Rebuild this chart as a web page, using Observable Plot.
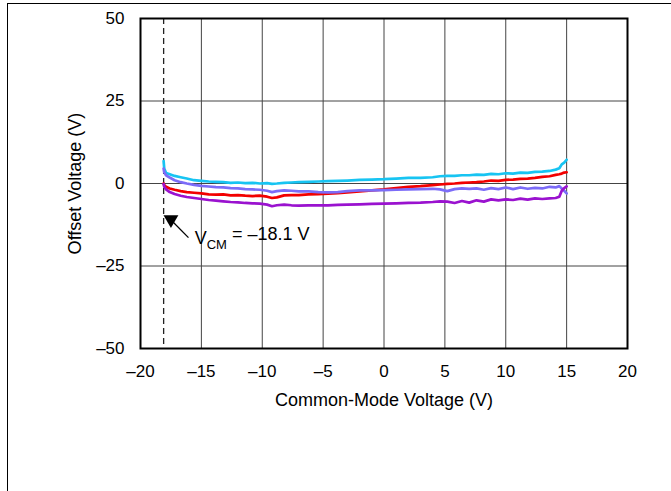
<!DOCTYPE html>
<html>
<head>
<meta charset="utf-8">
<script src="https://cdn.jsdelivr.net/npm/d3@7"></script>
<script src="https://cdn.jsdelivr.net/npm/@observablehq/plot@0.6"></script>
<style>
  html, body { margin: 0; padding: 0; background: #fff; }
  #wrap { position: relative; width: 671px; height: 491px; overflow: hidden; }
  #border { position: absolute; left: 7px; top: 3px; width: 800px; height: 800px;
            border-top: 1.5px solid #000; border-left: 1.5px solid #000; }
  #chart { position: absolute; left: 0; top: 0; }
</style>
</head>
<body>
<div id="wrap"><div id="border"></div><div id="chart"></div></div>
<script>
const xTicks = [-20, -15, -10, -5, 0, 5, 10, 15, 20];
const yTicks = [-50, -25, 0, 25, 50];
const vcm = -18.1;

const xs = [-18.1, -18.05, -17.9, -17.6, -17.2, -16.7, -16.2, -15.6, -15.0, -14.4, -13.8, -13.2, -12.6, -12.0,
  -11.4, -10.8, -10.2, -9.6, -9.2, -8.8, -8.2, -7.6, -7.0, -6.2, -5.4, -4.6, -3.8, -3.0, -2.0, -1.0,
  0, 1, 2, 3, 4, 4.6, 5.2, 5.8, 6.4, 7.0, 7.6, 8.2, 8.8, 9.4, 10.0, 10.6, 11.2, 11.8, 12.4, 13.0,
  13.6, 14.1, 14.4, 14.6, 14.8, 15.0];

const cyan = [6.8, 4.5, 3.2, 2.8, 2.3, 1.9, 1.5, 1.0, 0.8, 0.6, 0.5, 0.4, 0.2, 0.3,
  0.1, 0.2, 0.0, 0.1, -0.1, 0.0, 0.2, 0.3, 0.4, 0.5, 0.6, 0.7, 0.8, 0.9, 1.1, 1.2,
  1.3, 1.5, 1.7, 1.7, 1.9, 2.2, 2.3, 2.3, 2.5, 2.5, 2.7, 2.6, 2.9, 2.8, 3.1, 3.0, 3.3, 3.2, 3.5, 3.6,
  3.8, 4.2, 4.6, 5.8, 6.3, 7.2];

const red = [0.0, -0.5, -1.0, -1.5, -1.9, -2.3, -2.6, -2.8, -3.0, -3.3, -3.4, -3.3, -3.6, -3.5,
  -3.7, -3.8, -3.7, -4.0, -4.4, -4.2, -3.6, -3.5, -3.5, -3.3, -3.2, -3.1, -2.9, -2.7, -2.4, -2.1,
  -1.8, -1.4, -1.0, -0.8, -0.5, -0.3, -0.1, 0.0, 0.2, 0.3, 0.4, 0.6, 0.9, 0.8, 1.1, 1.2, 1.4, 1.5, 1.7, 2.0,
  2.2, 2.6, 2.8, 3.0, 3.3, 3.4];

const slate = [4.5, 3.4, 2.5, 1.8, 1.0, 0.4, 0.0, -0.4, -0.7, -0.9, -1.1, -1.2, -1.4, -1.5,
  -1.7, -1.8, -1.9, -2.2, -2.6, -2.3, -2.1, -2.2, -2.4, -2.4, -2.6, -2.7, -2.6, -2.3, -2.1, -2.1,
  -2.0, -1.9, -1.8, -1.7, -1.6, -1.8, -2.3, -1.7, -1.5, -1.6, -1.5, -1.9, -1.4, -1.7, -1.2, -1.7, -1.2, -1.6, -1.3, -1.5,
  -1.0, -1.2, -0.8, -1.5, -2.2, -3.0];

const purple = [-0.2, -1.0, -1.8, -2.6, -3.2, -3.7, -4.1, -4.4, -4.7, -5.0, -5.2, -5.4, -5.6, -5.7,
  -5.9, -6.0, -6.1, -6.4, -6.9, -6.6, -6.4, -6.6, -6.7, -6.6, -6.6, -6.6, -6.5, -6.4, -6.3, -6.2,
  -6.1, -6.0, -5.9, -5.8, -5.6, -5.4, -5.5, -5.9, -5.3, -5.8, -5.1, -5.5, -4.8, -5.1, -4.8, -5.0, -4.6, -4.9, -4.5, -4.7,
  -4.5, -4.4, -4.0, -2.2, -1.4, -0.9];

const seriesNames = ["cyan", "red", "slate", "purple"];
const seriesValues = [cyan, red, slate, purple];
const seriesColors = ["#17c4f2", "#f20000", "#7c6cf8", "#9a12cf"];

const data = seriesNames.flatMap((s, i) => xs.map((x, j) => ({series: s, x, y: seriesValues[i][j]})));

const annotText = "V_CM = –18.1 V";
const fmt = d => d < 0 ? "\u2013" + Math.abs(d) : String(d);

const chart = Plot.plot({
  width: 671,
  height: 491,
  marginLeft: 140,
  marginRight: 44,
  marginTop: 18,
  marginBottom: 143,
  style: {fontFamily: "'Liberation Sans', Arial, sans-serif", fontSize: "17px", color: "#000", background: "transparent"},
  x: {domain: [-20, 20]},
  y: {domain: [-50, 50]},
  color: {domain: seriesNames, range: seriesColors},
  marks: [
    Plot.gridX(xTicks.slice(1, -1), {stroke: "#444", strokeOpacity: 1, strokeWidth: 1}),
    Plot.gridY(yTicks.slice(1, -1), {stroke: "#444", strokeOpacity: 1, strokeWidth: 1}),
    Plot.axisX(xTicks, {tickSize: 0, tickPadding: 16, tickFormat: fmt, label: null}),
    Plot.axisX([], {tickSize: 0, label: "Common-Mode Voltage (V)", labelAnchor: "center", labelArrow: "none", labelOffset: 57, fontSize: 18}),
    Plot.axisY(yTicks, {tickSize: 0, tickPadding: 16, tickFormat: fmt, label: null}),
    Plot.axisY([], {tickSize: 0, label: "Offset Voltage (V)", labelAnchor: "center", labelArrow: "none", labelOffset: 72, fontSize: 18}),
    Plot.ruleX([vcm], {stroke: "#222", strokeWidth: 1.3, strokeDasharray: "6,4"}),
    Plot.line(data, {x: "x", y: "y", z: "series", stroke: "series", strokeWidth: 2.7, curve: "linear"}),
    Plot.link([{x1: -16.06, y1: -16.4, x2: -17.37, y2: -11.5}], {x1: "x1", y1: "y1", x2: "x2", y2: "y2", stroke: "#000", strokeWidth: 1.3}),
    Plot.dot([{x: -17.5, y: -10.9}], {x: "x", y: "y", symbol: "triangle", r: 5.5, fill: "#000", stroke: "none", rotate: 180}),
    Plot.text([{x: -15.55, y: -16.6, t: annotText}], {x: "x", y: "y", text: "t", textAnchor: "start", fontSize: 18, fill: "#000"}),
    Plot.frame({stroke: "#000", strokeWidth: 2})
  ]
});

d3.select(chart).selectAll("text").filter(function() { return this.textContent === annotText; })
  .each(function() {
    const t = d3.select(this);
    t.text(null);
    t.append("tspan").text("V");
    t.append("tspan").attr("font-size", 13).attr("dy", "0.35em").text("CM");
    t.append("tspan").attr("dy", "-0.5em").text(" = \u201318.1 V");
  });

document.getElementById("chart").appendChild(chart);
</script>
</body>
</html>
